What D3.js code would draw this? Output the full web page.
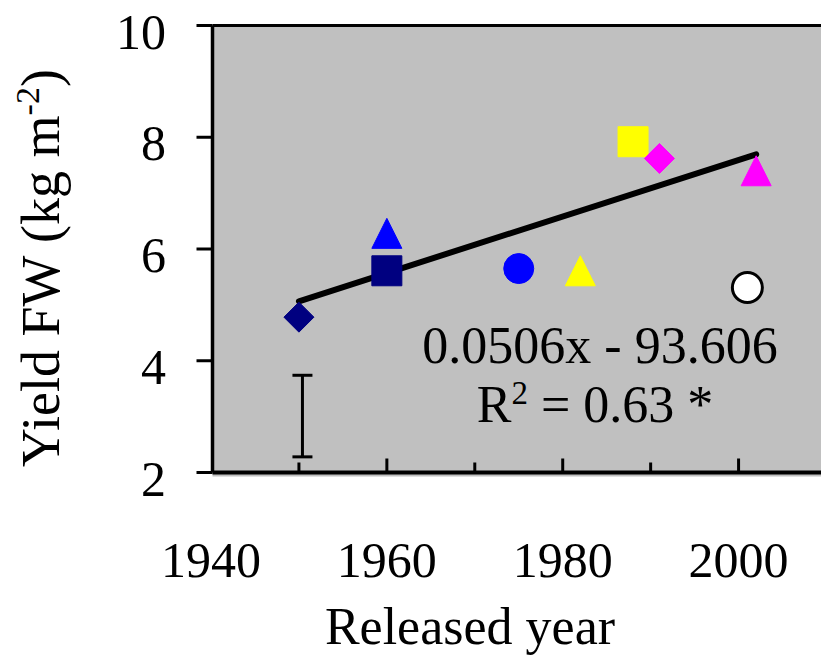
<!DOCTYPE html>
<html>
<head>
<meta charset="utf-8">
<script src="https://cdn.jsdelivr.net/npm/d3@7"></script>
<style>
  body { margin: 0; background: #fff; }
  text { font-family: "Liberation Serif", "Times New Roman", serif; fill: #000; }
</style>
</head>
<body>
<div id="chart"></div>
<script>
// cultivar data
var years  = [1950, 1960, 1960, 1975, 1982, 1988, 1991, 2002, 2001];
var yields = [4.78, 5.61, 6.28, 5.65, 5.61, 7.92, 7.62, 7.40, 5.31];
var shapes = ["diamond", "square", "triangle", "circle", "triangle", "square", "diamond", "triangle", "circle"];
var colors = ["#000080", "#000080", "#0000ff", "#0000ff", "#ffff00", "#ffff00", "#ff00ff", "#ff00ff", "#ffffff"];

var yTicks = [2, 4, 6, 8, 10];
var xTickLabels = [1940, 1960, 1980, 2000];
var xTickMarks = [1950, 1960, 1970, 1980, 1990, 2000];

// regression + LSD bar
var slope = 0.0506, intercept = -93.606;
var fitRange = [1950, 2002];
var lsdBar = {year: 1950.4, low: 2.28, high: 3.74};

var width = 821, height = 657;

var svg = d3.select("#chart").append("svg")
    .attr("width", width)
    .attr("height", height);

var x = d3.scaleLinear().domain([1940, 2010]).range([211, 826.5]);
var y = d3.scaleLinear().domain([2, 10]).range([472.5, 25.5]);

var left = x.range()[0] + 1.5;

// plot area
svg.append("rect")
    .attr("x", left)
    .attr("y", y(10))
    .attr("width", width - left + 10)
    .attr("height", y(2) - y(10) + 4)
    .attr("fill", "#c0c0c0");

// top border
svg.append("line")
    .attr("x1", left).attr("x2", width + 5)
    .attr("y1", y(10)).attr("y2", y(10))
    .attr("stroke", "#000").attr("stroke-width", 3);

// y axis line
svg.append("line")
    .attr("x1", left).attr("x2", left)
    .attr("y1", y(10)).attr("y2", y(2))
    .attr("stroke", "#000").attr("stroke-width", 3.5);

// x axis line
svg.append("line")
    .attr("x1", left).attr("x2", width + 5)
    .attr("y1", y(2)).attr("y2", y(2))
    .attr("stroke", "#000").attr("stroke-width", 4);

// y ticks + labels
svg.selectAll(".ytick")
    .data(yTicks)
    .enter()
    .append("line")
    .attr("x1", left - 16).attr("x2", left)
    .attr("y1", function(d) { return y(d); })
    .attr("y2", function(d) { return y(d); })
    .attr("stroke", "#000").attr("stroke-width", 3);

svg.selectAll(".ylab")
    .data(yTicks)
    .enter()
    .append("text")
    .attr("x", 166)
    .attr("y", function(d) { return y(d) + 23; })
    .style("text-anchor", "end")
    .style("font-size", "50px")
    .text(function(d) { return d; });

// x ticks (inward)
svg.selectAll(".xtick")
    .data(xTickMarks)
    .enter()
    .append("line")
    .attr("x1", function(d) { return x(d); })
    .attr("x2", function(d) { return x(d); })
    .attr("y1", y(2))
    .attr("y2", function(d) { return y(2) - (d % 20 === 0 ? 14 : 10); })
    .attr("stroke", "#000").attr("stroke-width", 3);

svg.selectAll(".xlab")
    .data(xTickLabels)
    .enter()
    .append("text")
    .attr("x", function(d) { return x(d); })
    .attr("y", 577)
    .style("text-anchor", "middle")
    .style("font-size", "50px")
    .text(function(d) { return d; });

// axis titles
svg.append("text")
    .attr("x", 470)
    .attr("y", 644)
    .style("text-anchor", "middle")
    .style("font-size", "52px")
    .text("Released year");

var ytitle = svg.append("text")
    .attr("transform", "translate(59, 268) rotate(-90)")
    .style("text-anchor", "middle")
    .style("font-size", "54px");
ytitle.append("tspan").text("Yield FW (kg m");
ytitle.append("tspan").attr("dy", -20).style("font-size", "34px").text("-2");
ytitle.append("tspan").attr("dy", 20).text(")");

// LSD error bar
var eb = svg.append("g").attr("stroke", "#000").attr("stroke-width", 3);
eb.append("line")
    .attr("x1", x(lsdBar.year)).attr("x2", x(lsdBar.year))
    .attr("y1", y(lsdBar.high)).attr("y2", y(lsdBar.low));
[lsdBar.high, lsdBar.low].forEach(function(v) {
  eb.append("line")
      .attr("x1", x(lsdBar.year) - 10).attr("x2", x(lsdBar.year) + 10)
      .attr("y1", y(v)).attr("y2", y(v));
});

// trend line
svg.append("line")
    .attr("x1", x(fitRange[0]))
    .attr("y1", y(slope * fitRange[0] + intercept))
    .attr("x2", x(fitRange[1]))
    .attr("y2", y(slope * fitRange[1] + intercept))
    .attr("stroke", "#000")
    .attr("stroke-width", 6)
    .attr("stroke-linecap", "round");

// markers
function markerPath(shape) {
  if (shape === "square") return "M-15,-15H15V15H-15Z";
  if (shape === "diamond") return "M0,-15L15,0L0,15L-15,0Z";
  if (shape === "triangle") return "M0,-15L15,15H-15Z";
  return d3.symbol().type(d3.symbolCircle).size(Math.PI * 225)();
}

var pts = years.map(function(d, i) {
  return {year: d, value: yields[i], shape: shapes[i], color: colors[i]};
});

svg.selectAll(".pt")
    .data(pts)
    .enter()
    .append("path")
    .attr("transform", function(d) { return "translate(" + x(d.year) + "," + y(d.value) + ")"; })
    .attr("d", function(d) { return markerPath(d.shape); })
    .attr("fill", function(d) { return d.color; })
    .attr("stroke", function(d) { return d.color === "#ffffff" ? "#000" : d.color; })
    .attr("stroke-width", function(d) { return d.color === "#ffffff" ? 3 : 1; })
    .attr("stroke-linejoin", "round");

// equation
svg.append("text")
    .attr("x", 600)
    .attr("y", 363)
    .style("text-anchor", "middle")
    .style("font-size", "52px")
    .text("0.0506x - 93.606");

var r2 = svg.append("text")
    .attr("x", 595)
    .attr("y", 422)
    .style("text-anchor", "middle")
    .style("font-size", "52px");
r2.append("tspan").text("R");
r2.append("tspan").attr("dy", -18).style("font-size", "33px").text("2");
r2.append("tspan").attr("dy", 18).text(" = 0.63 *");
</script>
</body>
</html>
